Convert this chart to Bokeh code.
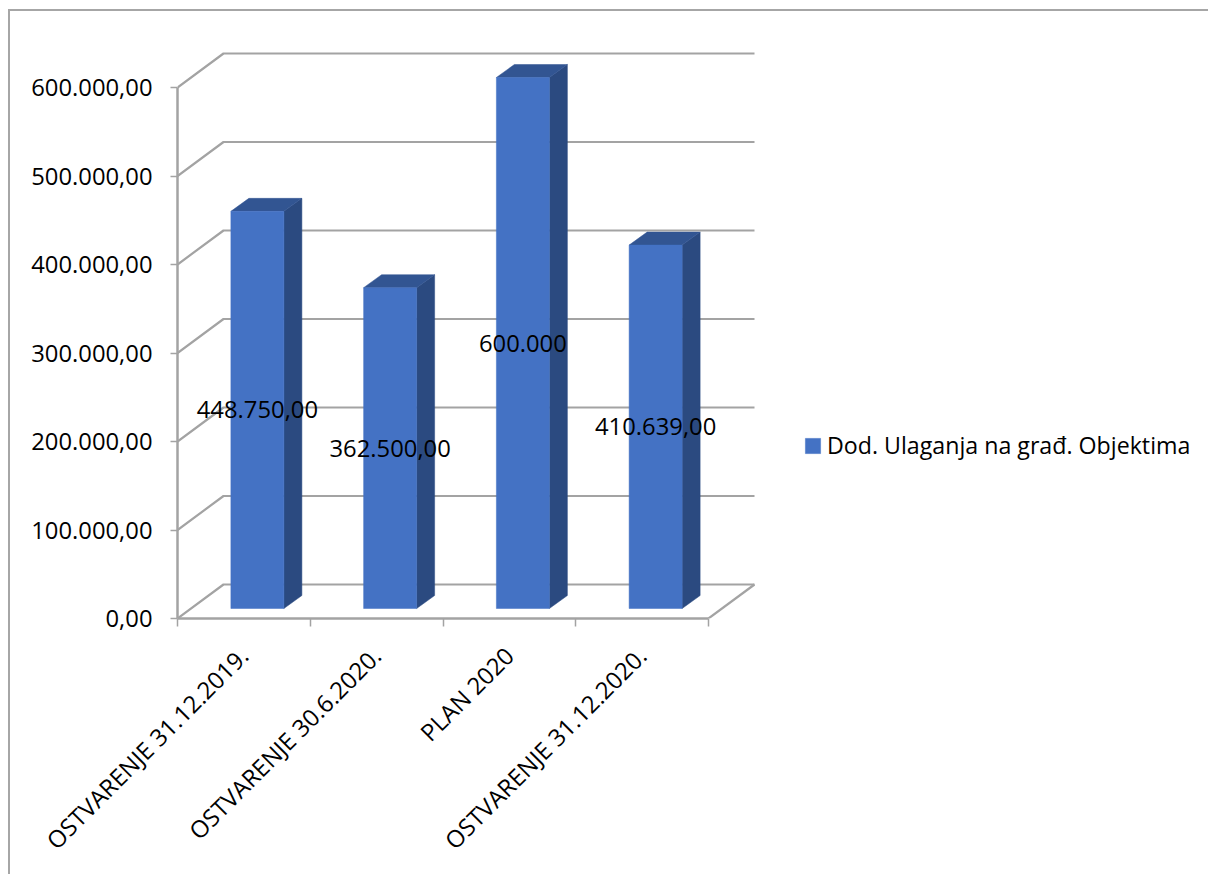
from bokeh.plotting import figure
from bokeh.embed import file_html
from bokeh.resources import INLINE
from bokeh.core.properties import value
from bokeh.models import Range1d, FixedTicker, Legend, LegendItem

categories = ["OSTVARENJE 31.12.2019.", "OSTVARENJE 30.6.2020.", "PLAN 2020", "OSTVARENJE 31.12.2020."]
values = [448750, 362500, 600000, 410639]
data_labels = ["448.750,00", "362.500,00", "600.000", "410.639,00"]
y_ticks = [0, 100000, 200000, 300000, 400000, 500000, 600000]
y_tick_labels = ["0,00", "100.000,00", "200.000,00", "300.000,00", "400.000,00", "500.000,00", "600.000,00"]
series_name = "Dod. Ulaganja na građ. Objektima"

FONT = "Open Sans"
FS = "23.8px"
FS_LEGEND = "23.2px"
GREY = "#a3a3a3"

W, H = 1200, 865
LEFT, BOTTOM = 167, 258
PX_X = 132.75            # px per category
PX_Y = 531 / 600000      # px per value
fx = lambda px: px / PX_X
fy = lambda px: px / PX_Y

p = figure(width=W, height=H, output_backend="svg", toolbar_location=None,
           x_range=Range1d(0, fx(W - LEFT)), y_range=Range1d(0, fy(H - BOTTOM)),
           min_border_left=LEFT, min_border_bottom=BOTTOM, min_border_top=0, min_border_right=0,
           outline_line_color=None, background_fill_color="white", border_fill_color="white",
           margin=(9, 0, 0, 8),
           styles={"border-left": "2px solid #a6a6a6", "border-top": "2px solid #a6a6a6", "box-sizing": "border-box"})
p.grid.visible = False

# back wall and floor
DX, DY = fx(46), fy(34)
n = len(categories)
for v in y_ticks:
    p.line([0, DX, n + DX], [v, v + DY, v + DY], line_color=GREY, line_width=2.2)
p.line([n, n + DX], [0, DY], line_color=GREY, line_width=2.2)

# bars
BW = fx(53)
OFFX, OFFY = fx(13.5), fy(10)
DEPTHX, DEPTHY = fx(18), fy(13)
front = None
for i, v in enumerate(values):
    x0 = i + 0.5 + OFFX - BW / 2
    x1 = x0 + BW
    y0 = OFFY
    y1 = OFFY + v
    p.patch([x1, x1 + DEPTHX, x1 + DEPTHX, x1], [y0, y0 + DEPTHY, y1 + DEPTHY, y1],
            fill_color="#2b4a80", line_color="#2b4a80", line_width=0.5)
    p.patch([x0, x0 + DEPTHX, x1 + DEPTHX, x1], [y1, y1 + DEPTHY, y1 + DEPTHY, y1],
            fill_color="#325592", line_color="#325592", line_width=0.5)
    r = p.quad(left=[x0], right=[x1], bottom=[y0], top=[y1], fill_color="#4472c4", line_color="#4472c4", line_width=0.5)
    if front is None:
        front = r

# data labels
p.text(x=[i + 0.5 + OFFX for i in range(n)], y=[OFFY + v / 2 for v in values], text=data_labels,
       text_font=value(FONT), text_font_size=value(FS), text_color="#000000",
       text_align="center", text_baseline="middle")

# axes
xa = p.xaxis[0]
xa.bounds = (0, n)
xa.ticker = FixedTicker(ticks=[i + 0.5 for i in range(n)], minor_ticks=list(range(n + 1)))
xa.major_label_overrides = {i + 0.5: c for i, c in enumerate(categories)}
xa.major_label_orientation = 0.785
xa.major_tick_in = 0
xa.major_tick_out = 0
xa.minor_tick_in = 0
xa.minor_tick_out = 8
xa.minor_tick_line_color = GREY
xa.minor_tick_line_width = 1.5
xa.axis_line_color = GREY
xa.axis_line_width = 2.5
xa.major_label_text_font = FONT
xa.major_label_text_font_size = FS
xa.major_label_text_color = "#000000"
xa.major_label_standoff = 25

ya = p.yaxis[0]
ya.bounds = (0, 600000)
ya.ticker = FixedTicker(ticks=y_ticks)
ya.major_label_overrides = {t: l for t, l in zip(y_ticks, y_tick_labels)}
ya.major_tick_in = 0
ya.major_tick_out = 7
ya.minor_tick_line_color = None
ya.major_tick_line_color = GREY
ya.major_tick_line_width = 1.5
ya.axis_line_color = GREY
ya.axis_line_width = 2.5
ya.major_label_text_font = FONT
ya.major_label_text_font_size = FS
ya.major_label_text_color = "#000000"
ya.major_label_standoff = 18

legend = Legend(items=[LegendItem(label=series_name, renderers=[front])],
                location=(626, 157), orientation="vertical",
                border_line_color=None, background_fill_alpha=0,
                padding=0, margin=0, glyph_width=19, glyph_height=19,
                label_text_font=FONT, label_text_font_size=FS_LEGEND, label_text_color="#000000",
                label_standoff=5)
p.add_layout(legend, "center")

open("out.html", "w").write(file_html(p, INLINE))
